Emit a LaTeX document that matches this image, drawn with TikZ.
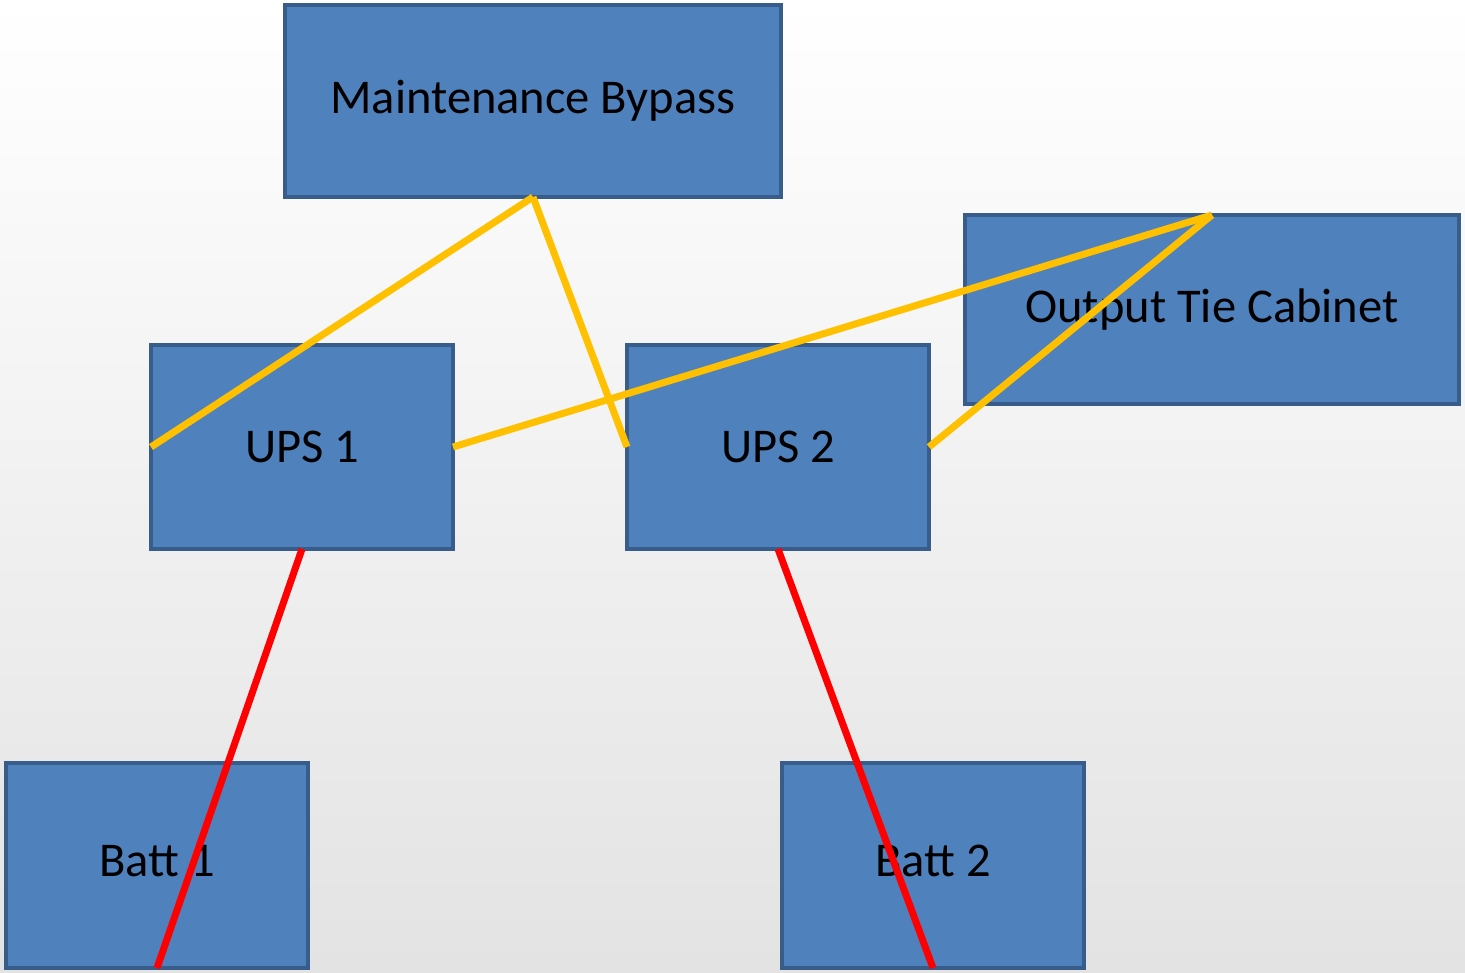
\documentclass[tikz,border=0pt]{standalone}
\usepackage{fontspec}
\setmainfont{Carlito}
\usetikzlibrary{calc, positioning}

\definecolor{boxblue}{HTML}{4F81BD}
\definecolor{boxedge}{HTML}{385D8A}
\definecolor{feedyellow}{HTML}{FFC000}

\begin{document}
\begin{tikzpicture}[x=1pt, y=-1pt,
  unit/.style={draw=boxedge, fill=boxblue, line width=4pt, inner sep=0pt, outer sep=0pt,
    font=\fontsize{48.5}{58}\selectfont, text=black},
  feed/.style={feedyellow, line width=7pt},
  batline/.style={red, line width=7pt}]
% Draw background
\shade[top color=white, bottom color=black!11] (0,0) rectangle (1465,973);
\useasboundingbox (0,0) rectangle (1465,973);

% Draw cabinets
\node[unit, minimum width=496pt, minimum height=192pt] (mb) at (533,101) {Maintenance Bypass};
\node[unit, minimum width=494pt, minimum height=189pt] (otc) at (1212,309.5) {Output Tie Cabinet};
\node[unit, minimum width=302pt, minimum height=204pt] (ups1) at (302,447) {UPS 1};
\node[unit, minimum width=302pt, minimum height=204pt] (ups2) at (778,447) {UPS 2};
\node[unit, minimum width=302pt, minimum height=205pt] (batt1) at (157,865.5) {\raisebox{10pt}{Batt 1}};
\node[unit, minimum width=302pt, minimum height=205pt] (batt2) at (933,865.5) {\raisebox{10pt}{Batt 2}};

% Draw bypass and output feeds
\draw[feed] (mb.south) -- (ups1.west);
\draw[feed] (mb.south) -- (ups2.west);
\draw[feed] (otc.north) -- (ups1.east);
\draw[feed] (otc.north) -- (ups2.east);

% Draw battery cables
\draw[batline] (ups1.south) -- (batt1.south);
\draw[batline] (ups2.south) -- (batt2.south);
\end{tikzpicture}
\end{document}
